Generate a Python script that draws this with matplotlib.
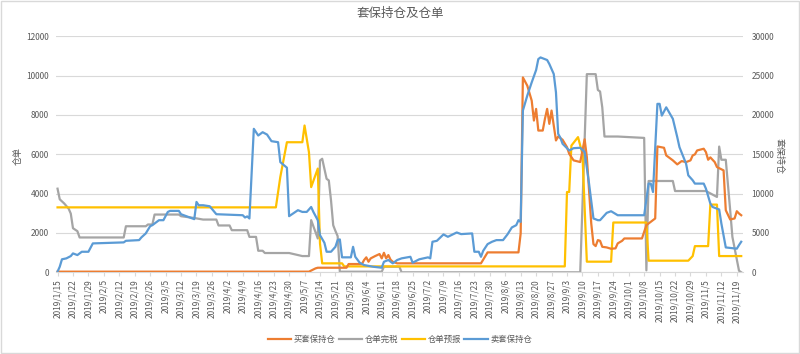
import matplotlib
matplotlib.use("Agg")
import matplotlib.pyplot as plt
import matplotlib.patches as patches
import pandas as pd

plt.rcParams["font.family"] = ["Noto Sans CJK SC", "DejaVu Sans"]

START = pd.Timestamp("2019-01-15")

# 仓单预报 (left axis), day offsets from 2019/1/15
yb_day = [0, 99, 101, 104, 111, 112, 114, 115, 118, 119, 120, 129, 130, 230, 231, 232, 233, 236, 238, 240,
          251, 252, 267, 268, 286, 288, 289, 295, 296, 299, 300, 310]
yb_val = [3300, 3300, 4840, 6610, 6610, 7460, 6100, 4330, 5270, 1470, 455, 455, 300, 300, 4080, 4080, 6440, 6870, 6025, 540,
          540, 2530, 2530, 590, 590, 825, 1330, 1330, 3440, 3440, 825, 825]

# 仓单完税 (left axis)
gw_day = [0, 1, 3, 5, 6, 7, 9, 10, 30, 31, 40, 41, 43, 44, 55, 56, 62, 66, 72, 73,
          78, 79, 86, 87, 90, 91, 93, 94, 105, 111, 114, 115, 118, 119, 120, 122, 123, 124, 125, 126,
          127, 128, 147, 148, 155, 156, 237, 240, 244, 245, 246, 247, 248, 254, 266, 267, 268, 279, 280, 294,
          299, 300, 301, 303, 305, 306, 309, 310]
gw_val = [4250, 3710, 3500, 3240, 2985, 2240, 2090, 1770, 1770, 2340, 2340, 2430, 2430, 2935, 2935, 2850, 2760, 2680, 2680, 2380,
          2380, 2140, 2140, 1800, 1800, 1095, 1095, 980, 980, 825, 825, 2650, 1720, 5680, 5770, 4750, 4670, 3660, 2390, 2100,
          1840, 30, 30, 285, 285, 0, 0, 10070, 10070, 9265, 9190, 8380, 6900, 6900, 6830, 100, 4640, 4640, 4130, 4130,
          3830, 6390, 5720, 5720, 3150, 1800, 80, 0]

# 买套保持仓 (right axis)
bh_day = [0, 114, 117, 118, 131, 132, 138, 139, 140, 141, 142, 144, 146, 147, 148, 149, 150, 151, 152, 154,
          192, 195, 209, 210, 211, 213, 215, 216, 217, 218, 220, 221, 222, 223, 224, 226, 227, 229, 231, 232,
          234, 237, 239, 240, 241, 242, 243, 244, 245, 246, 247, 249, 251, 253, 254, 256, 257, 265, 267, 271,
          272, 275, 276, 279, 281, 283, 285, 287, 288, 289, 290, 293, 294, 295, 296, 298, 299, 302, 303, 305,
          307, 308, 309, 310]
bh_val = [80, 80, 500, 580, 580, 1050, 1050, 1560, 1900, 1340, 1770, 2060, 2320, 1770, 2480, 1770, 2190, 1600, 1340, 1140,
          1140, 2530, 2530, 4940, 24760, 23710, 21810, 19280, 20760, 18010, 18010, 19500, 20760, 18860, 20550, 16750, 17260, 16840, 15900, 15060,
          14220, 14010, 16900, 14640, 10420, 6200, 3580, 3330, 4090, 4000, 3240, 3160, 2990, 3040, 3670, 4000, 4300, 4300, 5990, 6840,
          15990, 15820, 14850, 14220, 13710, 14130, 14000, 14220, 14850, 14980, 15480, 15700, 15270, 14300, 14600, 14000, 13370, 12950, 7890, 6710,
          6840, 7760, 7470, 7250]

# 卖套保持仓 (right axis)
sh_day = [0, 1, 2, 4, 6, 7, 9, 11, 14, 16, 30, 31, 37, 38, 40, 42, 43, 46, 48, 50,
          51, 55, 56, 60, 62, 63, 64, 66, 69, 72, 84, 85, 86, 87, 89, 91, 93, 95, 97, 100,
          101, 104, 105, 109, 111, 113, 115, 116, 118, 119, 121, 122, 124, 126, 127, 128, 129, 133, 134, 135,
          137, 139, 143, 147, 148, 150, 152, 154, 156, 160, 161, 164, 168, 169, 170, 172, 175, 177, 181, 183,
          188, 189, 191, 192, 193, 195, 197, 199, 202, 204, 206, 208, 209, 210, 211, 213, 215, 217, 218, 219,
          222, 223, 225, 226, 227, 228, 229, 232, 234, 237, 239, 241, 243, 245, 246, 248, 249, 251, 254, 266,
          268, 269, 270, 272, 273, 274, 276, 279, 281, 282, 285, 286, 288, 289, 293, 294, 296, 297, 300, 301,
          303, 308, 309, 310]
sh_val = [80, 710, 1650, 1770, 2060, 2400, 2190, 2610, 2610, 3670, 3800, 4000, 4090, 4430, 4940, 5860, 5990, 6620, 6620, 7670,
          7800, 7800, 7380, 6960, 6750, 8940, 8520, 8520, 8390, 7380, 7250, 6960, 7100, 6840, 18230, 17380, 17800, 17500, 16660, 16530,
          14000, 13290, 7130, 7890, 7670, 7670, 8300, 7670, 6620, 4720, 3750, 2610, 2610, 3240, 4090, 4180, 1900, 1900, 3240, 1970,
          1220, 920, 710, 580, 1340, 1560, 1140, 1560, 1770, 1970, 1220, 1650, 1900, 1770, 3880, 4000, 4810, 4510, 5060, 4850,
          4940, 2610, 2610, 1970, 2730, 3580, 3880, 4090, 4090, 4810, 5700, 5990, 6620, 6400, 20550, 22450, 24130, 25700, 27090, 27300,
          26970, 26460, 25190, 22860, 17600, 17090, 16330, 15480, 15770, 15820, 15270, 11270, 6840, 6620, 6620, 7250, 7550, 7760, 7250, 7250,
          11270, 11270, 10200, 21400, 21400, 19910, 20960, 19500, 17170, 15900, 13800, 12320, 11690, 11270, 11270, 10630, 8740, 8300, 7980, 6200,
          3160, 3000, 3460, 3880]

left_ticks = [0, 2000, 4000, 6000, 8000, 10000, 12000]
right_ticks = [0, 5000, 10000, 15000, 20000, 25000, 30000]


def to_dates(days):
    return START + pd.to_timedelta(days, unit="D")


C_ORANGE = "#ED7D31"
C_GRAY = "#A5A5A5"
C_YELLOW = "#FFC000"
C_BLUE = "#5B9BD5"
TXT = "#595959"
GRID = "#D9D9D9"

fig = plt.figure(figsize=(8, 3.54), dpi=100)
ax = fig.add_axes([0.07, 0.2308, 0.859, 0.667])
ax2 = ax.twinx()

l_gw, = ax.plot(to_dates(gw_day), gw_val, color=C_GRAY, lw=1.6, label="仓单完税")
l_yb, = ax.plot(to_dates(yb_day), yb_val, color=C_YELLOW, lw=1.6, label="仓单预报")
l_bh, = ax2.plot(to_dates(bh_day), bh_val, color=C_ORANGE, lw=1.6, label="买套保持仓")
l_sh, = ax2.plot(to_dates(sh_day), sh_val, color=C_BLUE, lw=1.6, label="卖套保持仓")

ax.set_xlim(START - pd.Timedelta(days=0.7), START + pd.Timedelta(days=310.9))
ax.set_ylim(0, 12000)
ax2.set_ylim(0, 30000)
ax.set_yticks(left_ticks)
ax2.set_yticks(right_ticks)

xt = pd.date_range("2019-01-15", "2019-11-19", freq="7D")
ax.set_xticks(xt)
ax.set_xticklabels([f"{d.year}/{d.month}/{d.day}" for d in xt], rotation=90, fontsize=6, color=TXT)

ax.grid(axis="y", color=GRID, lw=0.8)
ax.set_axisbelow(True)
for a in (ax, ax2):
    for s in ("top", "left", "right"):
        a.spines[s].set_visible(False)
    a.spines["bottom"].set_color(GRID)
ax2.spines["bottom"].set_visible(False)
ax.tick_params(axis="x", length=3, color=GRID, pad=2)
ax.tick_params(axis="y", length=0, labelsize=6, labelcolor=TXT, pad=5)
ax2.tick_params(axis="y", length=0, labelsize=6, labelcolor=TXT, pad=6)

fig.text(0.5, 0.963, "套保持仓及仓单", ha="center", va="center", fontsize=9, color=TXT)
fig.text(0.023, 0.56, "仓单", ha="center", va="center", rotation=90, fontsize=6.5, color=TXT)
fig.text(0.974, 0.56, "套保持仓", ha="center", va="center", rotation=270, fontsize=6.5, color=TXT)

fig.legend(handles=[l_bh, l_gw, l_yb, l_sh], loc="center", bbox_to_anchor=(0.5, 0.042), ncol=4,
           frameon=False, fontsize=6, handlelength=2.8, handletextpad=0.3, columnspacing=0.4,
           labelcolor=TXT)

fig.patches.append(patches.Rectangle((0.001, 0.002), 0.998, 0.996, transform=fig.transFigure,
                                     fill=False, edgecolor=GRID, lw=1))

fig.savefig("out.png", dpi=100)
